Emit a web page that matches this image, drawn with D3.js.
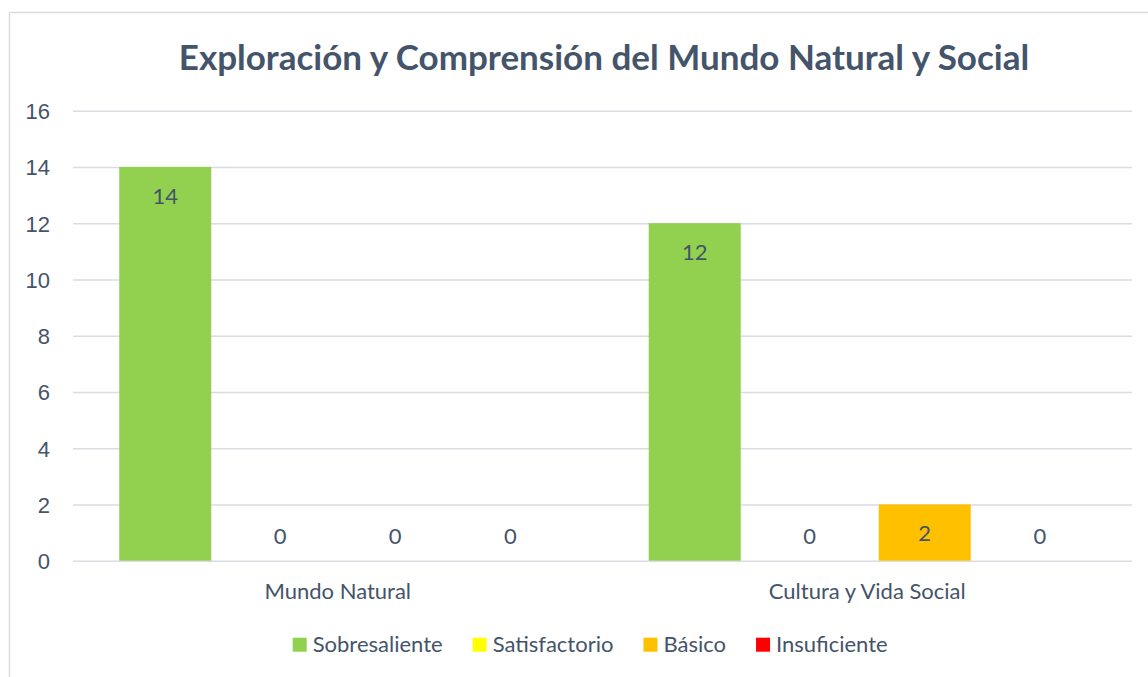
<!DOCTYPE html>
<html>
<head>
<meta charset="utf-8">
<script src="https://cdn.jsdelivr.net/npm/d3@7"></script>
<style>
  body { margin: 0; background: #fff; }
  svg { display: block; font-family: Lato, "Open Sans", sans-serif; }
</style>
</head>
<body>
<svg></svg>
<script>
let categories = ['Mundo Natural', 'Cultura y Vida Social']
let seriesNames = ['Sobresaliente', 'Satisfactorio', 'Básico', 'Insuficiente']
let seriesColors = ['#92D050', '#FFFF00', '#FFC000', '#FF0000']
let sobresaliente = [14, 12]
let satisfactorio = [0, 0]
let basico = [0, 2]
let insuficiente = [0, 0]
let yTicks = [0, 2, 4, 6, 8, 10, 12, 14, 16]
let title = 'Exploración y Comprensión del Mundo Natural y Social'

let width = 1148
let height = 677
let plotLeft = 73
let plotRight = 1132
let plotTop = 110.7
let plotBottom = 560.7
let textColor = '#44546A'
let gridColor = '#D9DCE1'

let seriesValues = [sobresaliente, satisfactorio, basico, insuficiente]

let svg = d3.select('svg')
    .attr('width', width)
    .attr('height', height)

// chart border (only top and left edges fall inside the picture)
svg.append('path')
    .attr('d', 'M9.5,' + height + ' V12.5 H' + width)
    .attr('fill', 'none')
    .attr('stroke', gridColor)
    .attr('stroke-width', 1.5)

let yScale = d3.scaleLinear()
    .domain([0, 16])
    .range([plotBottom, plotTop])

let x0 = d3.scaleBand()
    .domain(categories)
    .range([plotLeft, plotRight])
    .padding(0)

let x1 = d3.scaleBand()
    .domain(seriesNames)
    .range([0, x0.bandwidth()])
    .paddingInner(0.2)
    .paddingOuter(0.402)

// gridlines
let yAxis = d3.axisLeft(yScale)
    .tickValues(yTicks)
    .tickSize(-(plotRight - plotLeft))
    .tickPadding(23)

let yG = svg.append('g')
    .attr('transform', 'translate(' + plotLeft + ', 0)')
    .call(yAxis)
yG.select('.domain').remove()
yG.selectAll('line')
    .attr('stroke', gridColor)
    .attr('stroke-width', 1.5)
yG.selectAll('text')
    .attr('fill', textColor)
    .style('font-size', '22px')
    .attr('dy', '0.36em')

// bars
let rows = []
categories.forEach((cat, ci) => {
    seriesNames.forEach((name, si) => {
        rows.push({ cat: cat, name: name, value: seriesValues[si][ci], color: seriesColors[si] })
    })
})

svg.selectAll('rect.bar')
    .data(rows)
    .enter()
    .append('rect')
    .attr('class', 'bar')
    .attr('x', (d) => x0(d.cat) + x1(d.name))
    .attr('width', x1.bandwidth())
    .attr('y', (d) => yScale(d.value))
    .attr('height', (d) => yScale(0) - yScale(d.value))
    .attr('fill', (d) => d.color)

// data labels
svg.selectAll('text.label')
    .data(rows)
    .enter()
    .append('text')
    .attr('class', 'label')
    .attr('x', (d) => x0(d.cat) + x1(d.name) + x1.bandwidth() / 2)
    .attr('y', (d) => d.value > 0 ? yScale(d.value) + 29 : yScale(0) - 25)
    .attr('dy', '0.36em')
    .attr('text-anchor', 'middle')
    .attr('fill', textColor)
    .style('font-size', '22px')
    .text((d) => d.value)

// category axis
let xAxis = d3.axisBottom(x0).tickSize(0).tickPadding(0)
let xG = svg.append('g')
    .attr('transform', 'translate(0, ' + plotBottom + ')')
    .call(xAxis)
xG.select('.domain').remove()
xG.selectAll('text')
    .attr('fill', textColor)
    .attr('dy', null)
    .attr('y', 38)
    .style('font-size', '22px')
    .style('font-family', 'Lato, sans-serif')

// title
svg.append('text')
    .attr('x', 604)
    .attr('y', 70)
    .attr('text-anchor', 'middle')
    .attr('fill', textColor)
    .style('font-size', '35px')
    .style('font-weight', 'bold')
    .text(title)

// legend
let legend = svg.append('g')
let lx = 292.7
seriesNames.forEach((name, i) => {
    legend.append('rect')
        .attr('x', lx)
        .attr('y', 637.7)
        .attr('width', 14)
        .attr('height', 14)
        .attr('fill', seriesColors[i])
    let t = legend.append('text')
        .attr('x', lx + 20)
        .attr('y', 651.7)
        .attr('fill', textColor)
        .style('font-size', '22px')
        .text(name)
    lx = lx + 20 + t.node().getComputedTextLength() + 30
})
</script>
</body>
</html>
